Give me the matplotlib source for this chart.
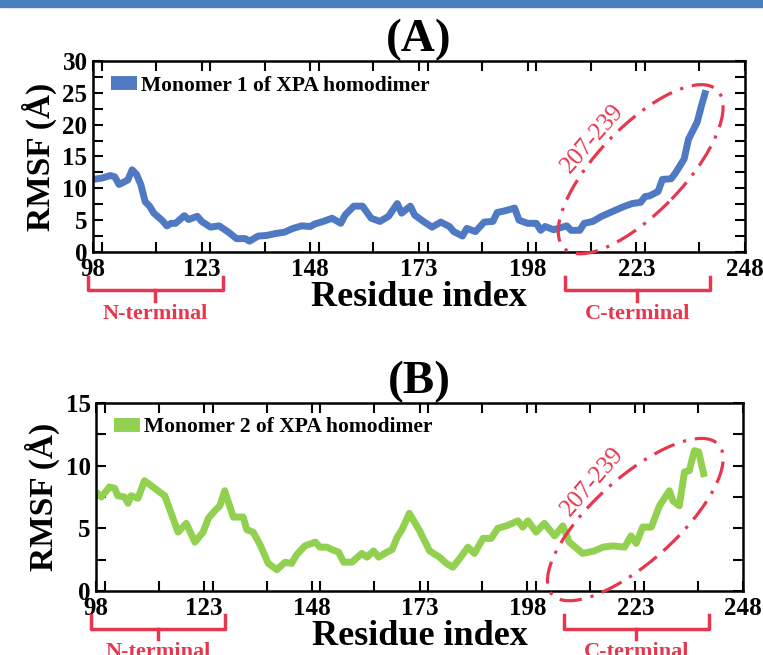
import numpy as np
import matplotlib
matplotlib.use("Agg")
import matplotlib.pyplot as plt
from matplotlib.patches import Ellipse, Rectangle
from matplotlib.transforms import ScaledTranslation, blended_transform_factory
from matplotlib.ticker import MultipleLocator

# RMSF per residue
res1 = [98, 100, 102, 103, 104, 106, 107, 108, 109, 110, 111, 112, 114, 115, 116, 117, 119, 120, 122, 123,
        125, 127, 129, 131, 133, 134, 136, 138, 140, 142, 144, 146, 148, 149, 151, 153, 155, 156, 158, 160,
        162, 164, 166, 168, 169, 171, 172, 174, 176, 178, 180, 181, 183, 184, 186, 188, 190, 191, 193, 195,
        196, 198, 200, 201, 202, 204, 205, 207, 208, 210, 211, 213, 215, 218, 220, 222, 224, 225, 226, 228,
        229, 231, 232, 234, 235, 237, 238, 239]
rmsf1 = [11.4, 11.6, 12.0, 11.8, 10.6, 11.3, 12.9, 12.2, 10.6, 7.9, 7.2, 6.1, 4.9, 4.1, 4.5, 4.5, 5.7, 5.1, 5.6, 4.8,
         3.9, 4.1, 3.2, 2.1, 2.1, 1.7, 2.5, 2.6, 2.9, 3.1, 3.7, 4.1, 4.0, 4.4, 4.8, 5.3, 4.5, 5.8, 7.2, 7.2,
         5.3, 4.8, 5.6, 7.6, 6.1, 7.2, 5.8, 4.8, 3.9, 4.7, 4.0, 3.2, 2.5, 3.7, 3.2, 4.7, 4.8, 6.2, 6.5, 6.9,
         5.0, 4.5, 4.5, 3.4, 4.0, 3.5, 3.7, 4.1, 3.4, 3.4, 4.5, 4.8, 5.6, 6.5, 7.1, 7.6, 7.8, 8.7, 8.8, 9.5,
         11.4, 11.5, 12.4, 14.6, 17.7, 20.4, 23.0, 25.4]

res2 = [98, 99.2, 101.1, 102.3, 103, 104.6, 105.4, 106.1, 107.7, 109.2, 110.8, 112.7, 113.9, 115.4, 117, 118.9,
        120.9, 122.8, 124, 125.5, 126.7, 127.8, 129.8, 132.1, 132.9, 134.4, 136, 137.9, 139.9, 141.8, 143.3,
        144.5, 146.4, 148.8, 149.9, 151.5, 152.7, 154.2, 155.4, 157.3, 159.6, 160.8, 162.3, 163.5, 165.4,
        166.6, 167.8, 168.9, 170.6, 173, 175.3, 177.6, 179.2, 180.7, 182.3, 184.2, 185.7, 187.7, 189.6,
        191.1, 193.1, 195.8, 196.9, 198.1, 200, 201.9, 204.3, 206.2, 207.7, 210.8, 213.5, 215.5, 217.8,
        220.5, 222, 223.2, 224.7, 226.7, 228.6, 230.9, 231.7, 233.2, 234.4, 235.5, 236.7, 237.7, 239]
rmsf2 = [7.9, 7.5, 8.3, 8.2, 7.6, 7.5, 7.0, 7.6, 7.4, 8.8, 8.4, 7.9, 7.6, 6.2, 4.7, 5.4,
         3.9, 4.7, 5.8, 6.4, 6.8, 8.0, 5.9, 5.9, 4.9, 4.7, 3.7, 2.2, 1.7, 2.3, 2.2,
         2.9, 3.6, 3.9, 3.5, 3.5, 3.3, 3.1, 2.3, 2.3, 3.0, 2.7, 3.2, 2.7, 3.1,
         3.3, 4.3, 4.9, 6.2, 4.8, 3.2, 2.7, 2.2, 1.9, 2.6, 3.5, 3.0, 4.2, 4.2,
         5.0, 5.2, 5.6, 5.1, 5.6, 4.7, 5.4, 4.4, 5.2, 3.9, 3.0, 3.2, 3.5, 3.6,
         3.5, 4.4, 3.8, 5.1, 5.1, 6.8, 8.0, 7.2, 6.8, 9.5, 9.6, 11.2, 11.1, 9.1]

xticks = [98, 123, 148, 173, 198, 223, 248]
labels = ["Monomer 1 of XPA homodimer", "Monomer 2 of XPA homodimer"]
panels = ["(A)", "(B)"]
ymax = [30, 15]

blue = "#4f79c3"
green = "#92d050"
red = "#e5384f"

plt.rcParams["font.family"] = ["Liberation Serif", "DejaVu Serif"]
plt.rcParams["font.weight"] = "bold"
plt.rcParams["axes.titleweight"] = "bold"
plt.rcParams["axes.labelweight"] = "bold"

fig = plt.figure(figsize=(7.63, 6.55), dpi=100)
fig.patches.append(Rectangle((0, 0.989), 1, 0.011, transform=fig.transFigure,
                             color="#4a7ebb", zorder=0))

axes = [fig.add_axes([0.1219, 0.6153, 0.8545, 0.2916]),
        fig.add_axes([0.1260, 0.0977, 0.8480, 0.2870])]


def brace(ax, x0, x1, text):
    tr = blended_transform_factory(ax.transData, ax.transAxes)
    xm = (x0 + x1) / 2
    ax.plot([x0, x0, x1, x1], [-0.13, -0.20, -0.20, -0.13], transform=tr,
            clip_on=False, color=red, lw=2.5, solid_joinstyle="round")
    ax.plot([xm, xm], [-0.20, -0.255], transform=tr, clip_on=False, color=red, lw=2.5)
    ax.text(xm, -0.325, text, transform=tr, ha="center", va="center",
            color=red, fontsize=16, fontweight="bold")


def ring(ax, cx, cy, w, h, ang, tx, ty):
    tr = fig.dpi_scale_trans + ScaledTranslation(cx, cy, ax.transData)
    e = Ellipse((0, 0), width=w, height=h, angle=ang, transform=tr, fill=False,
                ec=red, lw=2.3, ls=(0, (7, 2.8, 1, 2.8)), clip_on=False, zorder=5)
    fig.add_artist(e)
    ax.text(tx, ty, "207-239", color=red, fontsize=18, fontweight="normal",
            rotation=49, ha="center", va="center")


for i, ax in enumerate(axes):
    x = res1 if i == 0 else res2
    y = rmsf1 if i == 0 else rmsf2
    ax.plot(x, y, color=blue if i == 0 else green, lw=5, label=labels[i],
            solid_joinstyle="round", solid_capstyle="butt")
    ax.set_xlim(98, 248)
    ax.set_ylim(0, ymax[i])
    ax.set_xticks(xticks)
    ax.xaxis.set_minor_locator(MultipleLocator(12.5))
    ax.yaxis.set_major_locator(MultipleLocator(5))
    ax.yaxis.set_minor_locator(MultipleLocator(2.5))
    ax.tick_params(which="both", direction="in", top=True, right=True,
                   length=7, width=1.5, labelsize=18, pad=4)
    for s in ax.spines.values():
        s.set_linewidth(1.8)
    ax.set_xlabel("Residue index", fontsize=26, labelpad=0)
    ax.set_ylabel("RMSF (Å)", fontsize=24, labelpad=4)
    ax.set_title(panels[i], fontsize=34, pad=1)
    leg = ax.legend(loc="center left", bbox_to_anchor=(0.028, 0.87), frameon=False,
                    fontsize=15.5, handlelength=1.2, handletextpad=0.2,
                    borderpad=0, borderaxespad=0)
    for h in leg.legend_handles:
        h.set_linewidth(10)
    brace(ax, 96.8, 127.8, "N-terminal")
    brace(ax, 206.5, 240, "C-terminal")

ring(axes[0], 224, 13.0, 2.2, 0.86, 46, 213, 17.8)
ring(axes[1], 223, 5.7, 2.24, 0.84, 42, 213.2, 8.7)

fig.savefig("out.png", dpi=100)
